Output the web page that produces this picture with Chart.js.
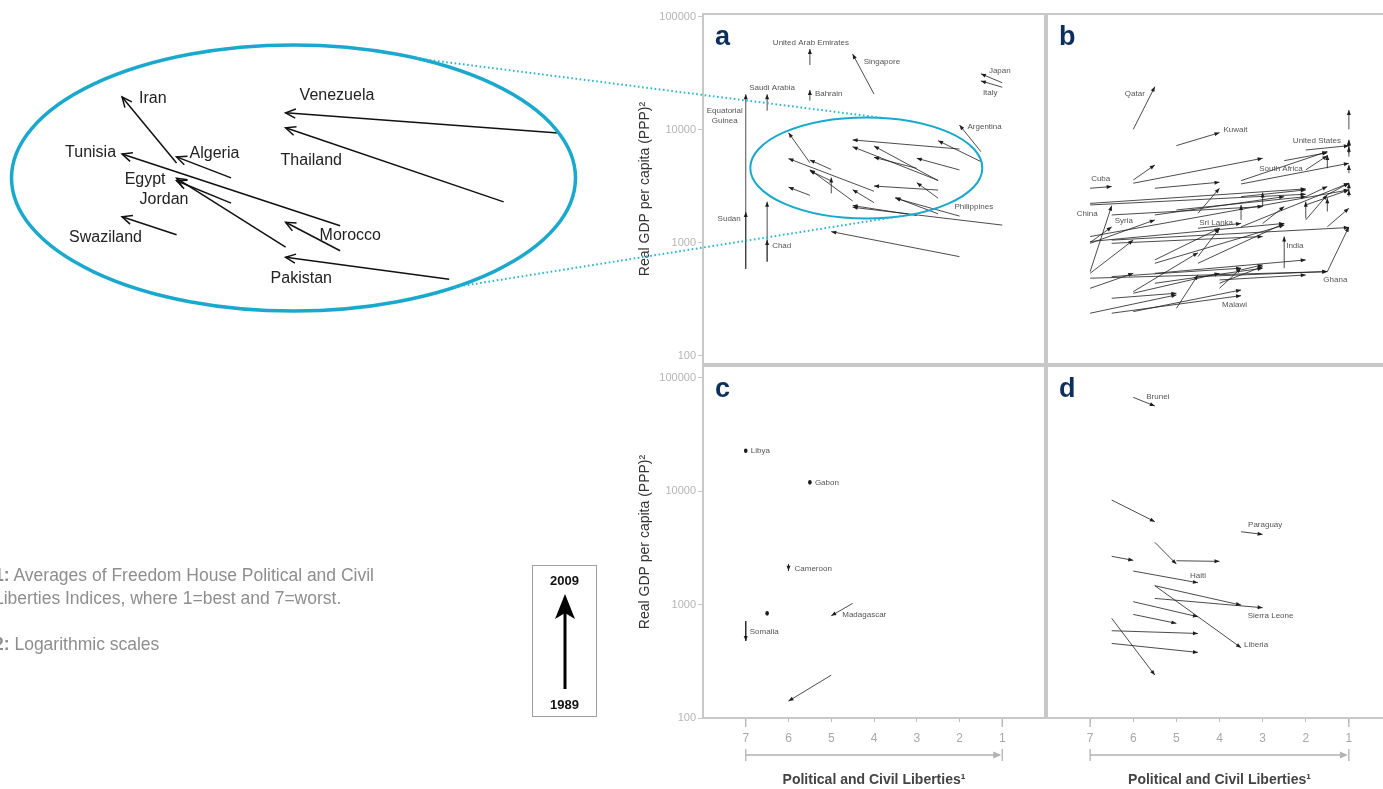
<!DOCTYPE html>
<html>
<head>
<meta charset="utf-8">
<script src="https://cdn.jsdelivr.net/npm/chart.js@4.4.1/dist/chart.umd.min.js"></script>
<style>
  html, body { margin:0; padding:0; background:#fff; }
  body { width:1383px; height:789px; overflow:hidden; position:relative; font-family:"Liberation Sans", Arial, sans-serif; }
  canvas { position:absolute; left:0; top:0; }
  #notes { position:absolute; left:-6px; top:564px; font-size:17.5px; line-height:23px; color:#8e8e8e; white-space:nowrap; }
  #notes b { font-weight:bold; }
  #key { position:absolute; left:532px; top:565px; width:65px; height:152px; border:1px solid #a0a0a0; box-sizing:border-box; }
  #key span { position:absolute; left:0; width:100%; text-align:center; font-size:13px; font-weight:bold; color:#111; }
  #key svg { position:absolute; left:0; top:0; }
</style>
</head>
<body>
<canvas id="panelA" width="1400" height="800"></canvas>
<canvas id="panelB" width="1400" height="800"></canvas>
<canvas id="panelC" width="1400" height="800"></canvas>
<canvas id="panelD" width="1400" height="800"></canvas>
<canvas id="zoomView" width="1400" height="800"></canvas>

<div id="notes"><b>1:</b> Averages of Freedom House Political and Civil<br>Liberties Indices, where 1=best and 7=worst.<br><br><b>2:</b> Logarithmic scales</div>
<div id="key">
  <span style="top:7px">2009</span>
  <svg width="63" height="150"><line x1="32" y1="123" x2="32" y2="46" stroke="#000" stroke-width="3"/><polygon points="32,28 22,53 32,47 42,53" fill="#000"/></svg>
  <span style="top:131px">1989</span>
</div>

<script>
const FONT = '"Liberation Sans", Arial, sans-serif';

// axes
const yTicks = [100, 1000, 10000, 100000];
const xTicks = [7, 6, 5, 4, 3, 2, 1];

// panel a  (liberties index and real GDP per capita, 1989 -> 2009); unnamed entries are ''
const aNames = ['United Arab Emirates','Singapore','Japan','Italy','Saudi Arabia','Bahrain','Equatorial Guinea','Sudan','Chad','',
  'Argentina','Philippines','','','',
  'Iran','Algeria','Tunisia','Egypt','Jordan','Swaziland','Morocco','Pakistan','Venezuela','Thailand'];
const aLib89 = [5.5,4,1,1,6.5,5.5,7,7,6.5,6.5, 1.5,2,2.5,1,2, 5.5,5,4,4.5,5,5.5,4,3,2,2.5, 5,1.5,2,3,2.5,2.5,2.5];
const aGdp89 = [37600,20800,26200,23900,14800,18200,590,590,683,683, 6430,1730,1810,1440,757,
  5130,4470,2870,2355,3540,2640,2276,1749,6780,3580, 2750,5250,4430,4580,3560,2940,2490];
const aLib09 = [5.5,4.5,1.5,1.5,6.5,5.5,7,7,6.5,6.5, 2,3.5,3.5,4.5,5, 6,5.5,6,5.5,5.5,6,4.5,4.5,4.5,4.5, 5,2.5,3,4,4,4,3];
const aGdp09 = [52100,47000,31400,27200,20700,22600,20700,1880,1065,2320, 11070,2490,2520,2070,1260,
  9460,5430,5580,4456,4355,3120,2965,2143,8170,7110, 3790,8040,5620,5730,7210,3190,3420];

// panel b (first eleven named, the rest unnamed)
const bNames = ['Qatar','Kuwait','Cuba','China','Syria','Sri Lanka','India','Ghana','South Africa','United States','Malawi'];
const bLib89 = [6,5,7,7,7,4.5,2.5,1.5,2,1,6.5,
  6,6,5.5,3.5,3.5,2.5,1.5,7,7,6.5,5.5,4.5,7,7,7,6.5,7,7,7,6,5.5,4.5,5.5,4.5,6,6.5,5,7,6,4,4,3.5,6.5,5.5,4.5,4,
  3.5,3,3,3.5,2,1.5,1.5,2,2,3.5,5,6.5,5.5,1,1,1,1,1,1,2,1.5,2];
const bGdp89 = [10130,7270,3050,558,1010,1350,598,558,4430,6220,239,
  3610,3380,3050,3560,3330,5350,4590,2240,2170,1770,1770,1830,993,1140,1030,1060,539,397,488,371,708,757,661,661,359,324,264,239,247,397,440,577,504,539,504,471,
  1390,1490,2100,1600,1600,1900,1390,1650,2570,2570,1960,993,440,10130,7120,5810,4140,2950,2570,6650,2670,2170];
const bLib09 = [5.5,4,6.5,6.5,6.5,3.5,2.5,1,1.5,1,3.5,
  5.5,3,4,1.5,1,1.5,1.5,2,2,3,2.5,4,5.5,1,2.5,1,6,6,1.5,4.5,4,4,2.5,2.5,4,5,4.5,5,3.5,3.5,3,3,3.5,2,1.5,2,
  1,2.5,3,3.5,1.5,1.5,1,2,1.5,2,2,3,3,1,1,1,1,1,1,1,1,1];
const bGdp09 = [24150,9470,3160,2140,1390,1490,1140,1390,5930,8040,342,
  4900,5620,3450,6440,5070,6300,6010,3010,2700,2100,2570,3050,1600,2950,1490,1370,1060,539,558,820,1350,1350,1440,1490,539,359,521,347,384,598,618,640,598,708,558,521,
  3380,2100,2800,2170,2670,2490,2030,2320,3160,2950,2570,1140,598,15030,8200,7120,4900,3380,2950,7270,3380,2950];

// panel c
const cNames = ['Libya','Gabon','Cameroon','','Madagascar','Somalia',''];
const cLib89 = [7,5.5,6,6.5,4.5,7,5];
const cGdp89 = [22800,12000,2270,838,1026,716,239];
const cLib09 = [7,5.5,6,6.5,5,7,6];
const cGdp09 = [22800,12000,1995,838,798,478,141];

// panel d
const dNames = ['Brunei','','Paraguay','','','','Haiti','','Sierra Leone','Liberia'];
const dLib89 = [6,6.5,3.5,5.5,5,6.5,6,5.5,5.5,5.5,6,6,6.5,6.5,6.5];
const dGdp89 = [67500,8380,4400,3550,2440,2670,1980,1470,1135,1470,1062,820,589,455,757];
const dLib09 = [5.5,5.5,3,5,4,6,4.5,3.5,3,3.5,4.5,5,4.5,4.5,5.5];
const dGdp09 = [56600,5400,4170,2280,2410,2460,1560,991,940,417,782,684,557,379,239];

// countries shown again in the enlarged view
const zoomCountries = ['Iran','Algeria','Tunisia','Egypt','Jordan','Swaziland','Morocco','Pakistan','Venezuela','Thailand'];

// label placement: [end, dx, dy, align]
const labelPos = {
  'United Arab Emirates': ['head', 1, -6, 'center'],
  'Singapore': ['head', 11, 8, 'left'],
  'Japan': ['head', 8, -3, 'left'],
  'Italy': ['head', 2, 12, 'left'],
  'Saudi Arabia': ['head', -18, -6, 'left'],
  'Bahrain': ['head', 5, 4, 'left'],
  'Equatorial Guinea': ['head', -21, 17, 'center'],
  'Sudan': ['head', -5, 7, 'right'],
  'Chad': ['head', 5, 6, 'left'],
  'Argentina': ['head', 8, 2, 'left'],
  'Philippines': ['tail', -5, -9, 'left'],
  'Qatar': ['head', -10, 7, 'right'],
  'Kuwait': ['head', 4, -3, 'left'],
  'United States': ['head', -8, 0, 'right'],
  'South Africa': ['tail', -3, -1, 'right'],
  'Cuba': ['tail', 1, -9, 'left'],
  'China': ['head', -14, 8, 'right'],
  'Syria': ['head', 3, -6, 'left'],
  'Sri Lanka': ['head', -8, -1, 'right'],
  'India': ['head', 2, 9, 'left'],
  'Ghana': ['tail', -4, 8, 'left'],
  'Malawi': ['head', -19, 9, 'left'],
  'Libya': ['head', 5, 0, 'left'],
  'Gabon': ['head', 5, 0, 'left'],
  'Cameroon': ['head', 6, -2, 'left'],
  'Madagascar': ['head', 11, -1, 'left'],
  'Somalia': ['head', 4, -9, 'left'],
  'Brunei': ['tail', 13, -1, 'left'],
  'Paraguay': ['tail', 7, -7, 'left'],
  'Haiti': ['head', -8, -7, 'left'],
  'Sierra Leone': ['head', -15, 8, 'left'],
  'Liberia': ['head', 3, -3, 'left']
};
const labelLines = { 'Equatorial Guinea': ['Equatorial', 'Guinea'] };
const zoomLabelPos = {
  'Iran': ['head', 17, 2, 'left'],
  'Venezuela': ['head', 14, -17, 'left'],
  'Tunisia': ['head', -6, -1, 'right'],
  'Algeria': ['head', 13, -3, 'left'],
  'Thailand': ['head', -5, 33, 'left'],
  'Egypt': ['head', -11, 1, 'right'],
  'Jordan': ['head', -37, 19, 'left'],
  'Swaziland': ['head', -53, 21, 'left'],
  'Morocco': ['head', 34, 13, 'left'],
  'Pakistan': ['head', -15, 21, 'left']
};

// one two-point line per country, 1989 -> 2009
function arrows(names, lib89, gdp89, lib09, gdp09, width, color, keep) {
  const out = [];
  lib89.forEach((v, i) => {
    const n = names[i] || '';
    if (keep && !keep.includes(n)) return;
    out.push({
      label: n,
      data: [{x: v, y: gdp89[i]}, {x: lib09[i], y: gdp09[i]}],
      showLine: true, borderColor: color, borderWidth: width,
      pointRadius: 0, pointHoverRadius: 0
    });
  });
  return out;
}

const arrowHeads = {
  id: 'arrowHeads',
  afterDatasetsDraw(chart, args, o) {
    const ctx = chart.ctx;
    ctx.save();
    ctx.fillStyle = o.color; ctx.strokeStyle = o.color; ctx.lineWidth = o.lineWidth || 1;
    chart.data.datasets.forEach((ds, i) => {
      const pts = chart.getDatasetMeta(i).data;
      if (pts.length < 2) return;
      const p = pts[0], q = pts[1];
      const dx = q.x - p.x, dy = q.y - p.y;
      if (Math.hypot(dx, dy) < 0.5) {
        ctx.beginPath(); ctx.ellipse(q.x, q.y, 1.8, 2.3, 0, 0, Math.PI * 2); ctx.fill();
        return;
      }
      const a = Math.atan2(dy, dx);
      const bx = q.x - o.len * Math.cos(a), by = q.y - o.len * Math.sin(a);
      const nx = -Math.sin(a) * o.half, ny = Math.cos(a) * o.half;
      ctx.beginPath();
      if (o.open) {
        ctx.moveTo(bx + nx, by + ny); ctx.lineTo(q.x, q.y); ctx.lineTo(bx - nx, by - ny);
        ctx.stroke();
      } else {
        ctx.moveTo(q.x, q.y); ctx.lineTo(bx + nx, by + ny); ctx.lineTo(bx - nx, by - ny);
        ctx.closePath(); ctx.fill();
      }
    });
    ctx.restore();
  }
};

const countryLabels = {
  id: 'countryLabels',
  afterDatasetsDraw(chart, args, o) {
    if (!o.pos) return;
    const ctx = chart.ctx;
    ctx.save();
    ctx.font = o.font; ctx.fillStyle = o.color; ctx.textBaseline = 'middle';
    chart.data.datasets.forEach((ds, i) => {
      const pos = o.pos[ds.label];
      if (!pos) return;
      const pts = chart.getDatasetMeta(i).data;
      const p = pos[0] === 'tail' ? pts[0] : pts[1];
      ctx.textAlign = pos[3];
      const lines = (o.lines && o.lines[ds.label]) || [ds.label];
      lines.forEach((t, k) => ctx.fillText(t, p.x + pos[1], p.y + pos[2] + k * o.lineHeight));
    });
    ctx.restore();
  }
};

const panelFrame = {
  id: 'panelFrame',
  beforeDatasetsDraw(chart, args, o) {
    if (!o.letter) return;
    const {ctx, chartArea: c} = chart;
    ctx.save();
    ctx.strokeStyle = '#c8c8c8'; ctx.lineWidth = 2;
    ctx.strokeRect(c.left, c.top, c.right - c.left, c.bottom - c.top);
    ctx.fillStyle = '#0c2f5d'; ctx.font = 'bold 27px ' + FONT;
    ctx.textAlign = 'left'; ctx.textBaseline = 'alphabetic';
    ctx.fillText(o.letter, c.left + 12, c.top + 31);
    if (o.range) {
      const xs = chart.scales.x;
      const x7 = xs.getPixelForValue(7), x1 = xs.getPixelForValue(1), y = c.bottom + 37;
      ctx.strokeStyle = '#b3b3b3'; ctx.lineWidth = 1.3;
      ctx.beginPath();
      ctx.moveTo(x7, c.bottom + 1); ctx.lineTo(x7, c.bottom + 9);
      ctx.moveTo(x1, c.bottom + 1); ctx.lineTo(x1, c.bottom + 9);
      ctx.moveTo(x7, y - 6); ctx.lineTo(x7, y + 6);
      ctx.moveTo(x1, y - 6); ctx.lineTo(x1, y + 6);
      ctx.moveTo(x7, y); ctx.lineTo(x1 - 3, y);
      ctx.stroke();
      ctx.fillStyle = '#b3b3b3';
      ctx.beginPath(); ctx.moveTo(x1 - 1, y); ctx.lineTo(x1 - 9, y - 3.5); ctx.lineTo(x1 - 9, y + 3.5); ctx.closePath(); ctx.fill();
    }
    ctx.restore();
  }
};

const zoomRing = {
  id: 'zoomRing',
  afterDatasetsDraw(chart, args, o) {
    if (!o.rx) return;
    const {ctx, chartArea: c, scales} = chart;
    let cx, cy;
    if (o.center) {
      cx = scales.x.getPixelForValue(o.center[0]);
      cy = scales.y.getPixelForValue(o.center[1]);
    } else {
      cx = (c.left + c.right) / 2 + o.shift;
      cy = (c.top + c.bottom) / 2;
    }
    chart.$ring = {cx, cy, rx: o.rx, ry: o.ry};
    ctx.save();
    ctx.strokeStyle = '#1aa9cc'; ctx.lineWidth = o.width;
    ctx.beginPath(); ctx.ellipse(cx, cy, o.rx, o.ry, 0, 0, Math.PI * 2); ctx.stroke();
    if (o.target && o.target.$ring) {
      const t = o.target.$ring, r = chart.$ring, d = Math.PI / 180;
      ctx.strokeStyle = '#2ab4d4'; ctx.lineWidth = 2; ctx.setLineDash([1.6, 2.6]);
      o.links.forEach(([a1, a2]) => {
        ctx.beginPath();
        ctx.moveTo(r.cx + r.rx * Math.cos(a1 * d), r.cy + r.ry * Math.sin(a1 * d));
        ctx.lineTo(t.cx + t.rx * Math.cos(a2 * d), t.cy + t.ry * Math.sin(a2 * d));
        ctx.stroke();
      });
    }
    ctx.restore();
  }
};

Chart.defaults.font.family = FONT;

function makePanel(id, o) {
  const x = {
    type: 'linear', min: 0, max: 8, reverse: true, bounds: 'data', display: o.xAxis,
    afterBuildTicks: s => { s.ticks = xTicks.map(v => ({value: v})); },
    afterFit: s => { if (s.options.display) s.height = 75; },
    ticks: {color: '#a8a8a8', font: {size: 12}, padding: 9, autoSkip: false, maxRotation: 0},
    grid: {drawOnChartArea: false, tickLength: 4, color: '#bdbdbd', lineWidth: 1},
    border: {display: false},
    title: {display: true, text: 'Political and Civil Liberties¹', color: '#444', font: {size: 14, weight: 'bold'}, padding: {top: 0, bottom: 4}}
  };
  const y = {
    type: 'logarithmic', min: o.yMin, max: o.yMax, bounds: 'data', display: o.yAxis,
    afterBuildTicks: s => { s.ticks = yTicks.map(v => ({value: v})); },
    afterFit: s => { if (s.options.display) s.width = 70; },
    ticks: {color: '#b5b5b5', font: {size: 11}, padding: 2, autoSkip: false, callback: v => String(v)},
    grid: {drawOnChartArea: false, tickLength: 5, color: '#c8c8c8', lineWidth: 1},
    border: {display: false},
    title: {display: true, text: 'Real GDP per capita (PPP)²', color: '#333', font: {size: 14}, padding: {top: 4, bottom: 0}}
  };
  return new Chart(document.getElementById(id), {
    type: 'scatter',
    data: {datasets: o.sets},
    options: {
      responsive: false, animation: false, events: [],
      layout: {padding: o.pad},
      scales: {x, y},
      plugins: {
        legend: {display: false}, tooltip: {enabled: false},
        panelFrame: {letter: o.letter, range: o.xAxis},
        arrowHeads: {len: 5, half: 2, color: '#1e1e1e'},
        countryLabels: {pos: labelPos, lines: labelLines, font: '8px ' + FONT, color: '#555', lineHeight: 10},
        zoomRing: o.ring || {}
      }
    },
    plugins: [panelFrame, arrowHeads, countryLabels, zoomRing]
  });
}

const LINE = '#1e1e1e';
const chartA = makePanel('panelA', {
  letter: 'a', xAxis: false, yAxis: true, yMin: 84.9, yMax: 106300,
  pad: {left: 633, right: 355, top: 14, bottom: 436},
  sets: arrows(aNames, aLib89, aGdp89, aLib09, aGdp09, 0.8, LINE),
  ring: {center: [4.18, 4620], rx: 116, ry: 50.5, width: 2}
});
makePanel('panelB', {
  letter: 'b', xAxis: false, yAxis: false, yMin: 84.9, yMax: 106300,
  pad: {left: 1047, right: 8, top: 14, bottom: 436},
  sets: arrows(bNames, bLib89, bGdp89, bLib09, bGdp09, 0.8, LINE)
});
makePanel('panelC', {
  letter: 'c', xAxis: true, yAxis: true, yMin: 100, yMax: 127600,
  pad: {left: 633, right: 355, top: 366, bottom: 7},
  sets: arrows(cNames, cLib89, cGdp89, cLib09, cGdp09, 0.8, LINE)
});
makePanel('panelD', {
  letter: 'd', xAxis: true, yAxis: false, yMin: 100, yMax: 127600,
  pad: {left: 1047, right: 8, top: 366, bottom: 7},
  sets: arrows(dNames, dLib89, dGdp89, dLib09, dGdp09, 0.8, LINE)
});

// enlarged view of the ringed part of panel a
new Chart(document.getElementById('zoomView'), {
  type: 'scatter',
  data: {datasets: arrows(aNames, aLib89, aGdp89, aLib09, aGdp09, 1.5, '#111', zoomCountries)},
  options: {
    responsive: false, animation: false, events: [],
    layout: {padding: {left: 13, right: 820, top: 41.3, bottom: 485.3}},
    scales: {
      x: {type: 'linear', display: false, min: 1.8, max: 7, reverse: true, bounds: 'data'},
      y: {type: 'logarithmic', display: false, min: 1258.9, max: 15849, bounds: 'data'}
    },
    plugins: {
      legend: {display: false}, tooltip: {enabled: false},
      arrowHeads: {len: 10, half: 4.5, color: '#111', open: true, lineWidth: 1.5},
      countryLabels: {pos: zoomLabelPos, font: '16px ' + FONT, color: '#222', lineHeight: 18},
      zoomRing: {rx: 282, ry: 133, width: 3.5, shift: -3, target: chartA, links: [[-64, -82], [55, 72.5]]}
    }
  },
  plugins: [arrowHeads, countryLabels, zoomRing]
});
</script>
</body>
</html>
